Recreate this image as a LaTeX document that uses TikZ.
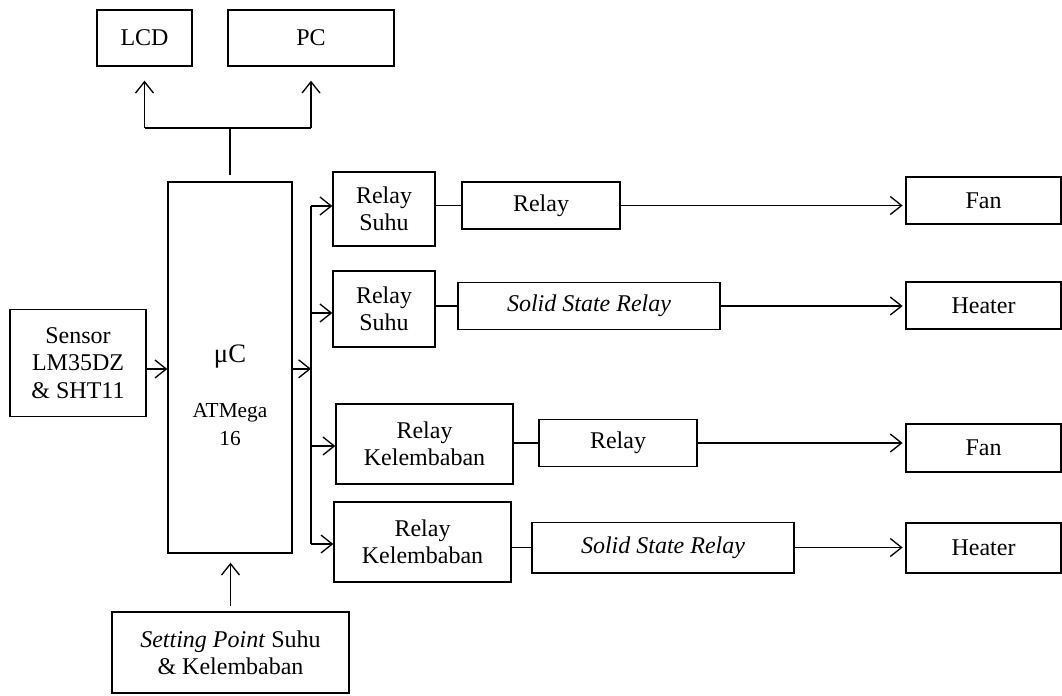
\documentclass[tikz,border=0pt]{standalone}
\usepackage{fontspec}
\setmainfont{Liberation Serif}
\usepackage{tikz}
\usetikzlibrary{arrows.meta}
\tikzstyle{block} = [rectangle, draw, line width=1pt, inner sep=0pt, align=center, font=\fontsize{18}{20.5}\selectfont]
\tikzstyle{wire} = [line width=1pt]
\tikzstyle{connector} = [line width=1pt, -{Straight Barb[length=8.5pt,width=13.5pt,line width=1pt]}]

\begin{document}
\begin{tikzpicture}[x=0.75pt, y=-0.75pt]
        \useasboundingbox (0,0) rectangle (1062,695);
        % outputs
        \node (lcd) [block, minimum width=71.25pt, minimum height=42pt] at (144.5,38) {LCD};
        \node (pc) [block, minimum width=124.5pt, minimum height=42pt] at (311,38) {PC};
        % controller, input and setting
        \node (uC) [block, minimum width=93pt, minimum height=278.25pt] at (230,367.5) {};
        \node (uC-text) [align=center, inner sep=0pt, anchor=north, font=\fontsize{16}{21}\selectfont] at (230,345) {{\fontsize{20}{21}\selectfont μC}\\[20pt]ATMega\\16};
        \node (sensor) [block, minimum width=102pt, minimum height=80.25pt] at (78,363) {Sensor\\LM35DZ\\\& SHT11};
        \node (setting) [block, minimum width=177.75pt, minimum height=60.75pt] at (230.5,652.5) {\textit{Setting Point} Suhu\\\& Kelembaban};
        % relay drivers
        \node (relay-suhu-1) [block, minimum width=76.5pt, minimum height=55.5pt] at (384,209) {Relay\\Suhu};
        \node (relay-suhu-2) [block, minimum width=76.5pt, minimum height=57pt] at (384,309) {Relay\\Suhu};
        \node (relay-kelembaban-1) [block, minimum width=132.75pt, minimum height=60pt] at (424.5,444) {Relay\\Kelembaban};
        \node (relay-kelembaban-2) [block, minimum width=132.75pt, minimum height=60pt] at (422.5,542) {Relay\\Kelembaban};
        % switches
        \node (relay-1) [block, minimum width=118.5pt, minimum height=35.25pt] at (541,205.5) {Relay};
        \node (ssr-1) [block, minimum width=196.5pt, minimum height=35.25pt] at (589,306) {\textit{Solid State Relay}};
        \node (relay-2) [block, minimum width=118.5pt, minimum height=35.25pt] at (618,443) {Relay};
        \node (ssr-2) [block, minimum width=196.5pt, minimum height=38pt] at (663,547.5) {\textit{Solid State Relay}};
        % loads
        \node (fan-1) [block, minimum width=116.25pt, minimum height=35.25pt] at (983.5,200.5) {Fan};
        \node (heater-1) [block, minimum width=116.25pt, minimum height=35.25pt] at (983.5,305.5) {Heater};
        \node (fan-2) [block, minimum width=116.25pt, minimum height=36pt] at (983.5,448) {Fan};
        \node (heater-2) [block, minimum width=116.25pt, minimum height=37.5pt] at (983.5,548) {Heater};
        \coordinate (top-bus) at (231,128);
        \coordinate (bus-1) at (311,206);
        \coordinate (bus-2) at (311,313);
        \coordinate (bus-3) at (311,446);
        \coordinate (bus-4) at (311,544);
        \draw [wire, shorten <=4.5pt] (uC.north) -- (uC.north |- top-bus);
        \draw [wire] (lcd.south |- top-bus) -- (pc.south |- top-bus);
        \draw [connector, shorten >=10.5pt] (lcd.south |- top-bus) -- (lcd.south);
        \draw [connector, shorten >=10.5pt] (pc.south |- top-bus) -- (pc.south);
        \draw [connector] ([yshift=-4.5pt]sensor.east) -- ([yshift=-4.5pt]sensor.east -| uC.west);
        \draw [connector, shorten <=3.75pt, shorten >=6.75pt] (setting.north) -- (setting.north |- uC.south);
        \draw [connector] ([yshift=-1pt]uC.east) -- ([yshift=-1pt]uC.east -| bus-1);
        \draw [wire] (bus-1) -- (bus-4);
        \draw [connector] (bus-1) -- (bus-1 -| relay-suhu-1.west);
        \draw [connector] (bus-2) -- (bus-2 -| relay-suhu-2.west);
        \draw [connector] (bus-3) -- (bus-3 -| relay-kelembaban-1.west);
        \draw [connector] (bus-4) -- (bus-4 -| relay-kelembaban-2.west);
        \draw [wire] (relay-1.west -| relay-suhu-1.east) -- (relay-1.west);
        \draw [wire] (ssr-1.west -| relay-suhu-2.east) -- (ssr-1.west);
        \draw [wire] (relay-2.west -| relay-kelembaban-1.east) -- (relay-2.west);
        \draw [wire] (ssr-2.west -| relay-kelembaban-2.east) -- (ssr-2.west);
        \draw [connector, shorten >=2pt] (relay-1.east) -- (relay-1.east -| fan-1.west);
        \draw [connector, shorten >=2pt] (ssr-1.east) -- (ssr-1.east -| heater-1.west);
        \draw [connector, shorten >=2pt] (relay-2.east) -- (relay-2.east -| fan-2.west);
        \draw [connector, shorten >=2pt] (ssr-2.east) -- (ssr-2.east -| heater-2.west);
    \end{tikzpicture}
\end{document}
